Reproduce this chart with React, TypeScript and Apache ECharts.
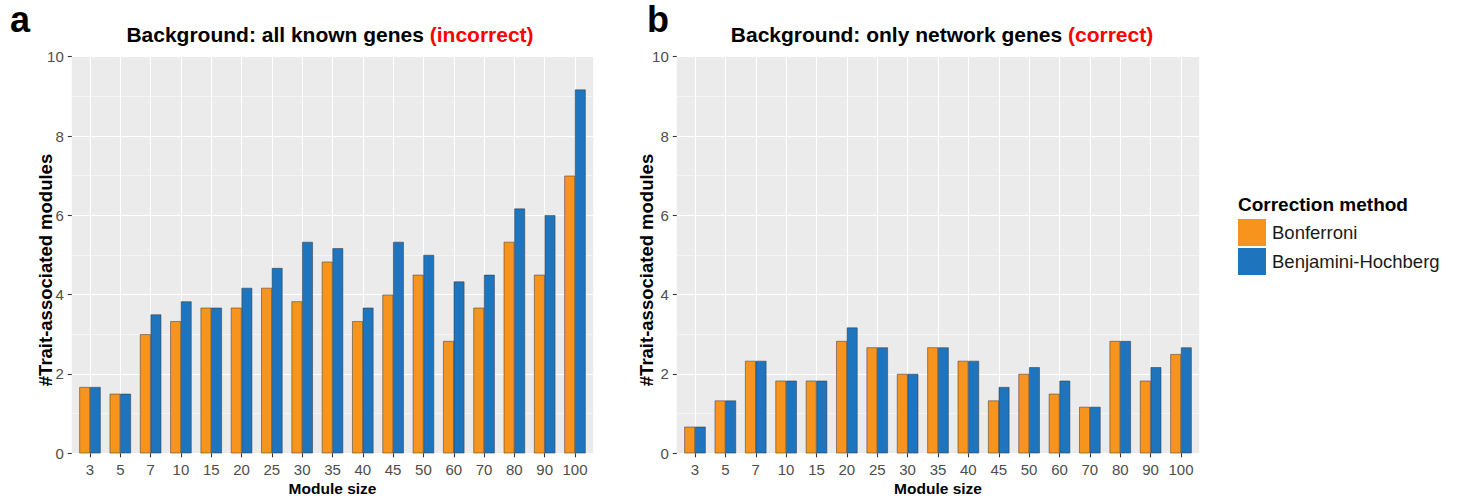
import React, { useEffect, useRef } from "react";
import * as echarts from "echarts";

const categories = ["3", "5", "7", "10", "15", "20", "25", "30", "35", "40", "45", "50", "60", "70", "80", "90", "100"];
const bonferroniA = [1.67, 1.5, 3.0, 3.33, 3.67, 3.67, 4.17, 3.83, 4.83, 3.33, 4.0, 4.5, 2.83, 3.67, 5.33, 4.5, 7.0];
const bhA = [1.67, 1.5, 3.5, 3.83, 3.67, 4.17, 4.67, 5.33, 5.17, 3.67, 5.33, 5.0, 4.33, 4.5, 6.17, 6.0, 9.17];
const bonferroniB = [0.67, 1.33, 2.33, 1.83, 1.83, 2.83, 2.67, 2.0, 2.67, 2.33, 1.33, 2.0, 1.5, 1.17, 2.83, 1.83, 2.5];
const bhB = [0.67, 1.33, 2.33, 1.83, 1.83, 3.17, 2.67, 2.0, 2.67, 2.33, 1.67, 2.17, 1.83, 1.17, 2.83, 2.17, 2.67];
const seriesNames = ["Bonferroni", "Benjamini-Hochberg"];
const yMin = 0;
const yMax = 10;
const yInterval = 2;

const FONT = "Liberation Sans, Arial, Helvetica, sans-serif";
const ORANGE = "#F7941E";
const BLUE = "#1E75BD";
const PANEL_BG = "#EBEBEB";

export default function App() {
  const ref = useRef<HTMLDivElement>(null);

  useEffect(() => {
    if (!ref.current) return;
    const chart = echarts.init(ref.current, null, { renderer: "svg" });

    const top = 56.7;
    const height = 396.6;
    const panels = [
      { outerLeft: 71.8, outerWidth: 521.4, innerLeft: 90, innerWidth: 485 },
      { outerLeft: 676.8, outerWidth: 522.4, innerLeft: 695, innerWidth: 486 },
    ];

    const grids: any[] = [];
    const xAxes: any[] = [];
    const yAxes: any[] = [];
    panels.forEach((p) => {
      grids.push({
        left: p.outerLeft, top, width: p.outerWidth, height,
        show: true, backgroundColor: PANEL_BG, borderWidth: 0,
      });
      grids.push({ left: p.innerLeft, top, width: p.innerWidth, height, show: false });
    });
    panels.forEach((p, i) => {
      const g0 = i * 2;
      const g1 = i * 2 + 1;
      xAxes.push({ type: "value", gridIndex: g0, min: 0, max: 1, show: false });
      xAxes.push({
        type: "category", gridIndex: g1, data: categories, boundaryGap: false,
        axisLine: { show: false },
        axisTick: { show: true, length: 4, lineStyle: { color: "#333333", width: 1.1 } },
        axisLabel: { color: "#4D4D4D", fontSize: 15, fontFamily: FONT, margin: 9, interval: 0 },
        splitLine: { show: true, lineStyle: { color: "#FFFFFF", width: 1.1 } },
      });
      yAxes.push({
        type: "value", gridIndex: g0, min: yMin, max: yMax, interval: yInterval,
        axisLine: { show: false },
        axisTick: { show: true, length: 4, lineStyle: { color: "#333333", width: 1.1 } },
        axisLabel: { color: "#4D4D4D", fontSize: 15, fontFamily: FONT, margin: 8 },
        splitLine: { show: true, lineStyle: { color: "#FFFFFF", width: 1.2 } },
        minorTick: { show: false, splitNumber: 2 },
        minorSplitLine: { show: true, lineStyle: { color: "#F7F7F7", width: 0.8 } },
      });
      yAxes.push({ type: "value", gridIndex: g1, min: yMin, max: yMax, show: false });
    });

    const mkBar = (name: string, data: number[], color: string, axisIdx: number) => ({
      type: "bar", name, data, xAxisIndex: axisIdx, yAxisIndex: axisIdx,
      barGap: "0%", barCategoryGap: "30%", clip: false,
      itemStyle: { color, borderColor: "#333333", borderWidth: 0.5 },
    });

    const series = [
      mkBar(seriesNames[0], bonferroniA, ORANGE, 1),
      mkBar(seriesNames[1], bhA, BLUE, 1),
      mkBar(seriesNames[0], bonferroniB, ORANGE, 3),
      mkBar(seriesNames[1], bhB, BLUE, 3),
    ];

    const titleRich = {
      k: { fill: "#000000", fontSize: 21, fontWeight: "bold", fontFamily: FONT },
      r: { fill: "#FF0000", fontSize: 21, fontWeight: "bold", fontFamily: FONT },
    };

    const graphic: any[] = [
      { type: "text", x: 10, y: 19, style: { text: "a", font: `bold 36px ${FONT}`, fill: "#000", verticalAlign: "middle" } },
      { type: "text", x: 647, y: 19, style: { text: "b", font: `bold 36px ${FONT}`, fill: "#000", verticalAlign: "middle" } },
      {
        type: "text", x: 330, y: 34,
        style: { text: "{k|Background: all known genes }{r|(incorrect)}", rich: titleRich, align: "center", verticalAlign: "middle" },
      },
      {
        type: "text", x: 942, y: 34,
        style: { text: "{k|Background: only network genes }{r|(correct)}", rich: titleRich, align: "center", verticalAlign: "middle" },
      },
      {
        type: "text", x: 45, y: 270, rotation: Math.PI / 2,
        style: { text: "#Trait-associated modules", font: `bold 18.5px ${FONT}`, fill: "#000", align: "center", verticalAlign: "middle" },
      },
      {
        type: "text", x: 646, y: 270, rotation: Math.PI / 2,
        style: { text: "#Trait-associated modules", font: `bold 18.5px ${FONT}`, fill: "#000", align: "center", verticalAlign: "middle" },
      },
      {
        type: "text", x: 332.5, y: 488,
        style: { text: "Module size", font: `bold 15.5px ${FONT}`, fill: "#000", align: "center", verticalAlign: "middle" },
      },
      {
        type: "text", x: 938, y: 488,
        style: { text: "Module size", font: `bold 15.5px ${FONT}`, fill: "#000", align: "center", verticalAlign: "middle" },
      },
      {
        type: "text", x: 1238, y: 204,
        style: { text: "Correction method", font: `bold 19px ${FONT}`, fill: "#000", align: "left", verticalAlign: "middle" },
      },
    ];

    chart.setOption({
      animation: false,
      backgroundColor: "#FFFFFF",
      grid: grids,
      xAxis: xAxes,
      yAxis: yAxes,
      series,
      legend: {
        orient: "vertical", left: 1238, top: 219, padding: 0, itemWidth: 28, itemHeight: 27, itemGap: 2,
        icon: "rect", data: seriesNames,
        itemStyle: { borderWidth: 0 },
        textStyle: { fontSize: 18.5, color: "#1A1A1A", fontFamily: FONT, padding: [0, 0, 0, 1] },
      },
      graphic,
    });

    return () => chart.dispose();
  }, []);

  return <div ref={ref} style={{ position: "absolute", left: 0, top: 0, width: 1461, height: 500 }} />;
}
